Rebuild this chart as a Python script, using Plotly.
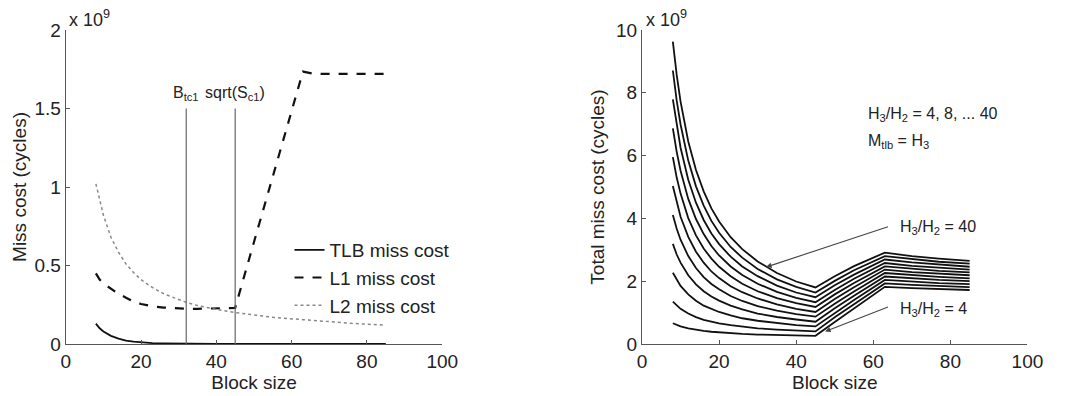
import plotly.graph_objects as go

# ---------------- Left chart data (values in units of 1e9 cycles) ----------------
block_left = [8, 9, 10, 12, 14, 16, 18, 20, 23, 26, 30, 32, 35, 40, 45, 50, 55, 63, 66, 70, 77, 85]
tlb_cost = [0.13, 0.10, 0.08, 0.052, 0.034, 0.022, 0.015, 0.010, 0.006, 0.004, 0.002, 0.0015, 0.001,
            0.0008, 0.0006, 0.0005, 0.0004, 0.0003, 0.0003, 0.0002, 0.0002, 0.0001]
l1_cost = [0.45, 0.41, 0.385, 0.35, 0.32, 0.295, 0.27, 0.255, 0.24, 0.232, 0.226, 0.224, 0.224,
           0.226, 0.23, 0.65, 1.07, 1.735, 1.72, 1.72, 1.72, 1.72]
l2_cost = [1.02, 0.91, 0.82, 0.68, 0.585, 0.51, 0.455, 0.41, 0.36, 0.32, 0.28, 0.265, 0.245,
           0.22, 0.20, 0.185, 0.17, 0.155, 0.15, 0.14, 0.13, 0.12]
vline_x = [32, 45]
vline_labels = ["B<sub>tc1</sub>", "sqrt(S<sub>c1</sub>)"]

# ---------------- Right chart data: total miss cost, 11 curves ----------------
block_right = [8, 9, 10, 12, 14, 16, 18, 20, 23, 26, 30, 35, 40, 45, 50, 55, 63, 70, 77, 85]
total_c0 = [0.66, 0.61, 0.56, 0.50, 0.45, 0.42, 0.39, 0.37, 0.34, 0.32, 0.30, 0.285, 0.27, 0.26,
            0.70, 1.13, 1.82, 1.78, 1.75, 1.72]
total_c1 = [1.35, 1.22, 1.12, 0.97, 0.855, 0.77, 0.71, 0.66, 0.60, 0.55, 0.50, 0.46, 0.43, 0.40,
            0.85, 1.27, 1.93, 1.88, 1.85, 1.81]
total_c2 = [2.27, 2.04, 1.85, 1.58, 1.38, 1.22, 1.11, 1.02, 0.91, 0.82, 0.74, 0.66, 0.60, 0.56,
            0.99, 1.40, 2.04, 1.98, 1.94, 1.91]
total_c3 = [3.19, 2.85, 2.59, 2.19, 1.90, 1.68, 1.51, 1.38, 1.22, 1.10, 0.97, 0.86, 0.78, 0.71,
            1.14, 1.54, 2.15, 2.09, 2.04, 2.00]
total_c4 = [4.11, 3.67, 3.32, 2.80, 2.42, 2.13, 1.91, 1.74, 1.53, 1.37, 1.21, 1.06, 0.95, 0.87,
            1.28, 1.67, 2.26, 2.19, 2.14, 2.09]
total_c5 = [5.03, 4.49, 4.05, 3.41, 2.94, 2.59, 2.31, 2.10, 1.84, 1.65, 1.45, 1.26, 1.12, 1.02,
            1.43, 1.81, 2.37, 2.29, 2.24, 2.19]
total_c6 = [5.95, 5.30, 4.79, 4.01, 3.46, 3.04, 2.72, 2.46, 2.16, 1.92, 1.68, 1.46, 1.30, 1.18,
            1.58, 1.94, 2.47, 2.39, 2.33, 2.28]
total_c7 = [6.87, 6.12, 5.52, 4.62, 3.98, 3.50, 3.12, 2.82, 2.47, 2.20, 1.92, 1.66, 1.47, 1.33,
            1.72, 2.08, 2.58, 2.49, 2.43, 2.37]
total_c8 = [7.79, 6.94, 6.25, 5.23, 4.50, 3.95, 3.52, 3.18, 2.78, 2.47, 2.16, 1.86, 1.64, 1.49,
            1.87, 2.21, 2.69, 2.60, 2.53, 2.46]
total_c9 = [8.71, 7.75, 6.99, 5.84, 5.02, 4.41, 3.92, 3.54, 3.09, 2.75, 2.39, 2.06, 1.82, 1.64,
            2.01, 2.35, 2.80, 2.70, 2.62, 2.56]
total_c10 = [9.63, 8.57, 7.72, 6.45, 5.54, 4.86, 4.32, 3.90, 3.40, 3.02, 2.63, 2.26, 1.99, 1.80,
             2.16, 2.48, 2.91, 2.80, 2.72, 2.65]
total_curves = [total_c0, total_c1, total_c2, total_c3, total_c4, total_c5,
                total_c6, total_c7, total_c8, total_c9, total_c10]

x_ticks = [0, 20, 40, 60, 80, 100]
left_y_ticks = [0, 0.5, 1, 1.5, 2]
left_y_ticklabels = ["0", "0.5", "1", "1.5", "2"]
right_y_ticks = [0, 2, 4, 6, 8, 10]

FONT = "Liberation Sans, Arial, sans-serif"
TXT = "#222222"
AX = "#555555"

fig = go.Figure()

# Left traces
fig.add_trace(go.Scatter(x=block_left, y=tlb_cost, mode="lines", name="TLB miss cost",
                         line=dict(color="#111111", width=1.8), xaxis="x", yaxis="y"))
fig.add_trace(go.Scatter(x=block_left, y=l1_cost, mode="lines", name="L1 miss cost",
                         line=dict(color="#111111", width=2.2, dash="dash"), xaxis="x", yaxis="y"))
fig.add_trace(go.Scatter(x=block_left, y=l2_cost, mode="lines", name="L2 miss cost",
                         line=dict(color="#888888", width=1.5, dash="dot"), xaxis="x", yaxis="y"))

for vx in vline_x:
    fig.add_trace(go.Scatter(x=[vx, vx], y=[0, 1.5], mode="lines", showlegend=False,
                             line=dict(color="#666666", width=1.2), xaxis="x", yaxis="y",
                             hoverinfo="skip"))

# Right traces
for curve in total_curves:
    fig.add_trace(go.Scatter(x=block_right, y=curve, mode="lines", showlegend=False,
                             line=dict(color="#111111", width=1.8), xaxis="x2", yaxis="y2"))

axis_common = dict(range=[0, 100], tickvals=x_ticks, ticks="inside", ticklen=4, tickcolor=AX,
                   showline=True, linecolor=AX, linewidth=1.2, showgrid=False, zeroline=False,
                   tickfont=dict(family=FONT, size=19, color=TXT), mirror=False)

fig.update_layout(
    width=1067, height=396,
    margin=dict(l=0, r=0, t=30, b=52),
    paper_bgcolor="white", plot_bgcolor="white",
    font=dict(family=FONT, color=TXT),
    xaxis=dict(domain=[0.0581, 0.418], anchor="y",
               title=dict(text="Block size", font=dict(family=FONT, size=19, color=TXT), standoff=2),
               **axis_common),
    xaxis2=dict(domain=[0.609, 0.9775], anchor="y2",
                title=dict(text="Block size", font=dict(family=FONT, size=19, color=TXT), standoff=2),
                **axis_common),
    yaxis=dict(domain=[0, 1], anchor="x", range=[0, 2], tickvals=left_y_ticks,
               ticktext=left_y_ticklabels, ticks="inside", ticklen=4, tickcolor=AX,
               showline=True, linecolor=AX, linewidth=1.2, showgrid=False, zeroline=False,
               tickfont=dict(family=FONT, size=19, color=TXT),
               title=dict(text="Miss cost (cycles)", font=dict(family=FONT, size=19, color=TXT), standoff=2)),
    yaxis2=dict(domain=[0, 1], anchor="x2", range=[0, 10], tickvals=right_y_ticks,
                ticks="inside", ticklen=4, tickcolor=AX,
                showline=True, linecolor=AX, linewidth=1.2, showgrid=False, zeroline=False,
                tickfont=dict(family=FONT, size=19, color=TXT),
                title=dict(text="Total miss cost (cycles)", font=dict(family=FONT, size=19, color=TXT), standoff=6)),
    legend=dict(x=0.272, y=0.36, xanchor="left", yanchor="top", bgcolor="rgba(0,0,0,0)",
                font=dict(family=FONT, size=19, color=TXT), tracegroupgap=0, itemwidth=30),
)

annotations = []
# exponent labels
annotations.append(dict(x=0.0595, y=1.0, xref="paper", yref="paper", xanchor="left", yanchor="bottom",
                        text="x 10<sup>9</sup>", showarrow=False, yshift=-2,
                        font=dict(family=FONT, size=18, color=TXT)))
annotations.append(dict(x=0.6105, y=1.0, xref="paper", yref="paper", xanchor="left", yanchor="bottom",
                        text="x 10<sup>9</sup>", showarrow=False, yshift=-2,
                        font=dict(family=FONT, size=18, color=TXT)))
# vertical-line labels
for vx, lab in zip(vline_x, vline_labels):
    annotations.append(dict(x=vx, y=1.5, xref="x", yref="y", xanchor="center", yanchor="bottom",
                            text=lab, showarrow=False, yshift=4,
                            font=dict(family=FONT, size=16, color=TXT)))
# right chart text
annotations.append(dict(x=58.0, y=7.3, xref="x2", yref="y2", xanchor="left", yanchor="middle",
                        text="H<sub>3</sub>/H<sub>2</sub> = 4, 8, ... 40", showarrow=False,
                        font=dict(family=FONT, size=16, color=TXT)))
annotations.append(dict(x=58.0, y=6.45, xref="x2", yref="y2", xanchor="left", yanchor="middle",
                        text="M<sub>tlb</sub> = H<sub>3</sub>", showarrow=False,
                        font=dict(family=FONT, size=16, color=TXT)))
annotations.append(dict(x=66.5, y=3.7, xref="x2", yref="y2", xanchor="left", yanchor="middle",
                        text="H<sub>3</sub>/H<sub>2</sub> = 40", showarrow=False,
                        font=dict(family=FONT, size=16, color=TXT)))
annotations.append(dict(x=66.5, y=1.1, xref="x2", yref="y2", xanchor="left", yanchor="middle",
                        text="H<sub>3</sub>/H<sub>2</sub> = 4", showarrow=False,
                        font=dict(family=FONT, size=16, color=TXT)))
# arrows
annotations.append(dict(x=32.2, y=2.45, ax=64.2, ay=3.75, xref="x2", yref="y2", axref="x2", ayref="y2",
                        text="", showarrow=True, arrowhead=2, arrowsize=1, arrowwidth=1.1,
                        arrowcolor="#444444"))
annotations.append(dict(x=47.5, y=0.4, ax=64.2, ay=1.2, xref="x2", yref="y2", axref="x2", ayref="y2",
                        text="", showarrow=True, arrowhead=2, arrowsize=1, arrowwidth=1.1,
                        arrowcolor="#444444"))
fig.update_layout(annotations=annotations)

fig.write_html("out.html")
